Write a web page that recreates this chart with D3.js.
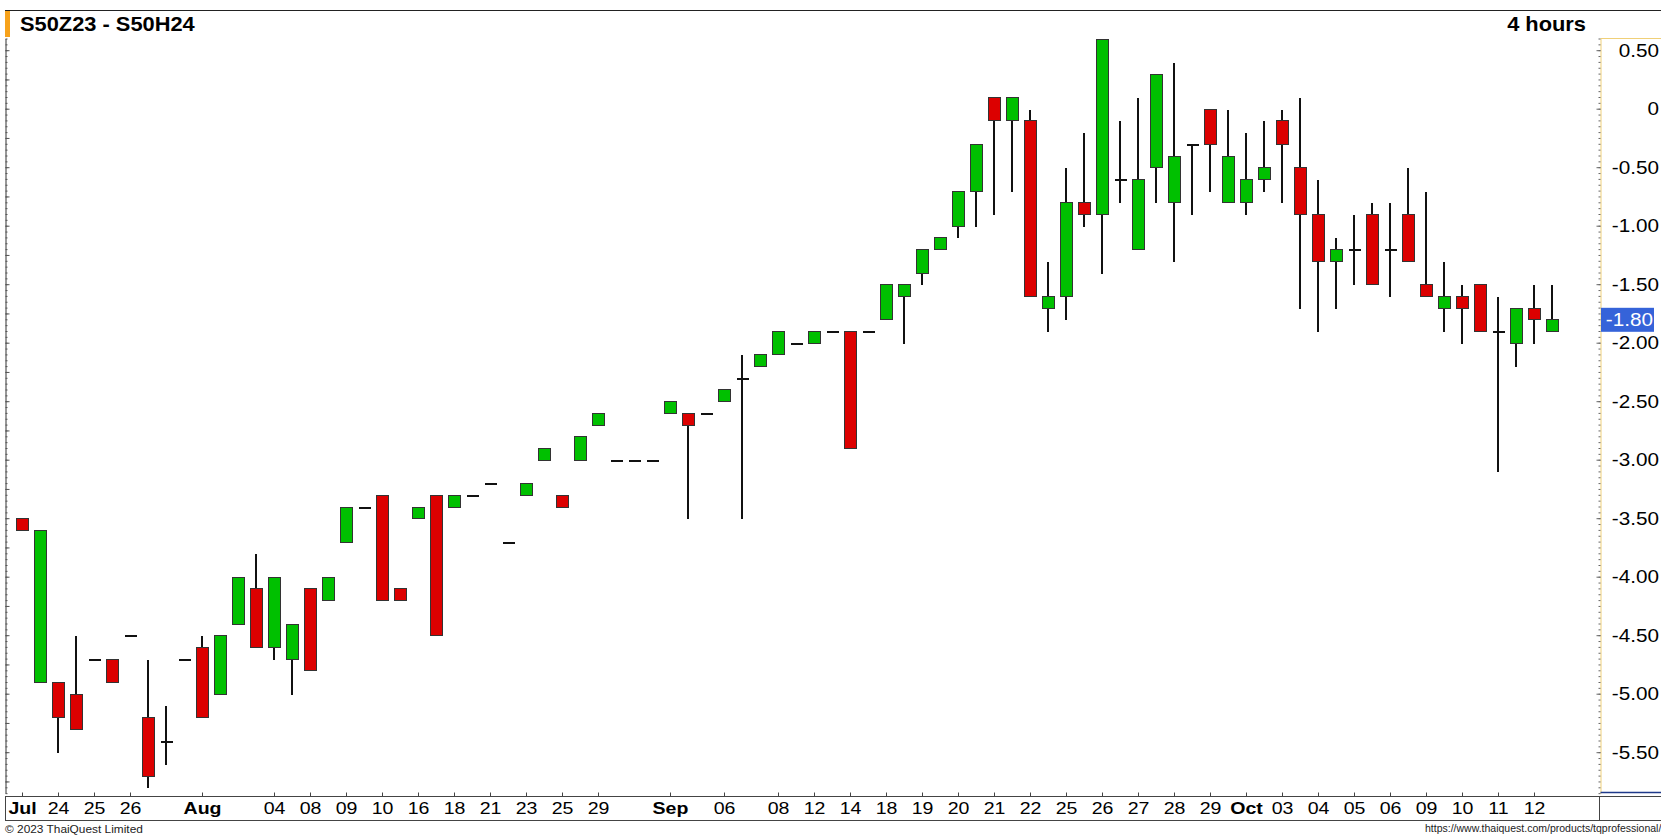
<!DOCTYPE html>
<html>
<head>
<meta charset="utf-8">
<script src="https://cdn.jsdelivr.net/npm/d3@7"></script>
<style>
body { margin: 0; background: #fff; overflow: hidden; }
svg { display: block; font-family: "Liberation Sans", Arial, sans-serif; }
</style>
</head>
<body>
<script>
// 4-hour bars, S50Z23 - S50H24 spread
const opens  = [-3.5,-4.9,-4.9,-5.0,-4.7,-4.7,-4.5,-5.2,-5.4,-4.7,
                -4.6,-5.0,-4.4,-4.1,-4.6,-4.7,-4.1,-4.2,-3.7,-3.4,
                -3.3,-4.1,-3.5,-3.3,-3.4,-3.3,-3.2,-3.7,-3.3,-3.0,
                -3.3,-3.0,-2.7,-3.0,-3.0,-3.0,-2.6,-2.6,-2.6,-2.5,
                -2.3,-2.2,-2.1,-2.0,-2.0,-1.9,-1.9,-1.9,-1.8,-1.6,
                -1.4,-1.2,-1.0,-0.7, 0.1,-0.1,-0.1,-1.7,-1.6,-0.8,
                -0.9,-0.6,-1.2,-0.5,-0.8,-0.3, 0.0,-0.8,-0.8,-0.6,
                -0.1,-0.5,-0.9,-1.3,-1.2,-0.9,-1.2,-0.9,-1.5,-1.7,
                -1.6,-1.5,-1.9,-2.0,-1.7,-1.9];
const highs  = [-3.5,-3.6,-4.9,-4.5,-4.7,-4.7,-4.5,-4.7,-5.1,-4.7,
                -4.5,-4.5,-4.0,-3.8,-4.0,-4.4,-4.1,-4.0,-3.4,-3.4,
                -3.3,-4.1,-3.4,-3.3,-3.3,-3.3,-3.2,-3.7,-3.2,-2.9,
                -3.3,-2.8,-2.6,-3.0,-3.0,-3.0,-2.5,-2.6,-2.6,-2.4,
                -2.1,-2.1,-1.9,-2.0,-1.9,-1.9,-1.9,-1.9,-1.5,-1.5,
                -1.2,-1.1,-0.7,-0.3, 0.1, 0.1, 0.0,-1.3,-0.5,-0.2,
                 0.6,-0.1, 0.1, 0.3, 0.4,-0.3, 0.0, 0.0,-0.2,-0.1,
                 0.0, 0.1,-0.6,-1.1,-0.9,-0.8,-0.8,-0.5,-0.7,-1.3,
                -1.5,-1.5,-1.6,-1.7,-1.5,-1.5];
const lows   = [-3.6,-4.9,-5.5,-5.3,-4.7,-4.9,-4.5,-5.8,-5.6,-4.7,
                -5.2,-5.0,-4.4,-4.6,-4.7,-5.0,-4.8,-4.2,-3.7,-3.4,
                -4.2,-4.2,-3.5,-4.5,-3.4,-3.3,-3.2,-3.7,-3.3,-3.0,
                -3.4,-3.0,-2.7,-3.0,-3.0,-3.0,-2.6,-3.5,-2.6,-2.5,
                -3.5,-2.2,-2.1,-2.0,-2.0,-1.9,-2.9,-1.9,-1.8,-2.0,
                -1.5,-1.2,-1.1,-1.0,-0.9,-0.7,-1.6,-1.9,-1.8,-1.0,
                -1.4,-0.8,-1.2,-0.8,-1.3,-0.9,-0.7,-0.8,-0.9,-0.7,
                -0.8,-1.7,-1.9,-1.7,-1.5,-1.5,-1.6,-1.3,-1.6,-1.9,
                -2.0,-1.9,-3.1,-2.2,-2.0,-1.9];
const closes = [-3.6,-3.6,-5.2,-5.3,-4.7,-4.9,-4.5,-5.7,-5.4,-4.7,
                -5.2,-4.5,-4.0,-4.6,-4.0,-4.4,-4.8,-4.0,-3.4,-3.4,
                -4.2,-4.2,-3.4,-4.5,-3.3,-3.3,-3.2,-3.7,-3.2,-2.9,
                -3.4,-2.8,-2.6,-3.0,-3.0,-3.0,-2.5,-2.7,-2.6,-2.4,
                -2.3,-2.1,-1.9,-2.0,-1.9,-1.9,-2.9,-1.9,-1.5,-1.5,
                -1.2,-1.1,-0.7,-0.3,-0.1, 0.1,-1.6,-1.6,-0.8,-0.9,
                 0.6,-0.6,-0.6, 0.3,-0.4,-0.3,-0.3,-0.4,-0.6,-0.5,
                -0.3,-0.9,-1.3,-1.2,-1.2,-1.5,-1.2,-1.3,-1.6,-1.6,
                -1.7,-1.9,-1.9,-1.7,-1.8,-1.8];

// date labels along the time axis (bar index -> text)
const tickIdx  = [0, 2, 4, 6, 10, 14, 16, 18, 20, 22, 24, 26, 28, 30, 32,
                  36, 39, 42, 44, 46, 48, 50, 52, 54, 56, 58, 60, 62,
                  64, 66, 68, 70, 72, 74, 76, 78, 80, 82, 84];
const tickText = ["Jul", "24", "25", "26", "Aug", "04", "08", "09", "10", "16", "18", "21", "23", "25", "29",
                  "Sep", "06", "08", "12", "14", "18", "19", "20", "21", "22", "25", "26", "27",
                  "28", "29", "Oct", "03", "04", "05", "06", "09", "10", "11", "12"];
const months = ["Jul", "Aug", "Sep", "Oct"];

const yLabelVals = [0.5, 0, -0.5, -1, -1.5, -2, -2.5, -3, -3.5, -4, -4.5, -5, -5.5];
const lastPrice = -1.80;

const W = 1661, H = 836;
const axisX = 1600.5;
const xAxisY = 796.5;
const sx = 1.15;

const svg = d3.select("body").append("svg")
  .attr("width", W)
  .attr("height", H);

const x = d3.scaleBand()
  .domain(d3.range(opens.length))
  .range([13.5, 1561.5]);

const y = d3.scaleLinear()
  .domain([-5.85, 0.6])
  .range([793.15, 38.5]);

const cx = i => x(i) + x.bandwidth() / 2;
const py = v => Math.round(y(v)) + 0.5;

// header
svg.append("line")
  .attr("x1", 5).attr("x2", W).attr("y1", 10.5).attr("y2", 10.5)
  .attr("stroke", "#222");
svg.append("rect")
  .attr("x", 5).attr("y", 11).attr("width", 5).attr("height", 26)
  .attr("fill", "#f7a21b");
svg.append("text")
  .attr("transform", `translate(20,30.5) scale(1.12,1)`)
  .attr("font-size", 19.5).attr("font-weight", "bold")
  .text("S50Z23 - S50H24");
svg.append("text")
  .attr("transform", `translate(1586,30.5) scale(1.12,1)`)
  .attr("text-anchor", "end")
  .attr("font-size", 19.5).attr("font-weight", "bold")
  .text("4 hours");

// candles
const bars = opens.map((o, i) => ({i: i, o: o, h: highs[i], l: lows[i], c: closes[i]}));
const cg = svg.append("g");

cg.selectAll("line.wick")
  .data(bars.filter(d => d.h !== d.l))
  .join("line")
  .attr("class", "wick")
  .attr("x1", d => cx(d.i) - 0.5).attr("x2", d => cx(d.i) - 0.5)
  .attr("y1", d => py(d.h)).attr("y2", d => py(d.l))
  .attr("stroke", "#111").attr("stroke-width", 2)
  .attr("shape-rendering", "crispEdges");

cg.selectAll("line.flat")
  .data(bars.filter(d => d.o === d.c))
  .join("line")
  .attr("class", "flat")
  .attr("x1", d => cx(d.i) - 6).attr("x2", d => cx(d.i) + 6)
  .attr("y1", d => py(d.o)).attr("y2", d => py(d.o))
  .attr("stroke", "#111").attr("stroke-width", 2)
  .attr("shape-rendering", "crispEdges");

cg.selectAll("rect.body")
  .data(bars.filter(d => d.o !== d.c))
  .join("rect")
  .attr("class", "body")
  .attr("x", d => cx(d.i) - 6)
  .attr("y", d => py(Math.max(d.o, d.c)))
  .attr("width", 12)
  .attr("height", d => py(Math.min(d.o, d.c)) - py(Math.max(d.o, d.c)))
  .attr("fill", d => d.c > d.o ? "#00c000" : "#dc0000")
  .attr("stroke", "#333").attr("stroke-width", 1);

// left edge scale
const leftMinor = d3.range(-117, 13).map(k => k * 0.05);
svg.append("g")
  .attr("transform", "translate(5.5,0)")
  .call(d3.axisRight(y).tickValues(leftMinor).tickSizeInner(2).tickSizeOuter(0).tickFormat(""))
  .call(g => g.selectAll("line").attr("stroke", "#555"))
  .call(g => g.select(".domain").attr("stroke", "#333"));
svg.append("g")
  .attr("transform", "translate(5.5,0)")
  .call(d3.axisRight(y).tickValues(d3.range(-23, 3).map(k => k * 0.25)).tickSizeInner(4).tickSizeOuter(0).tickFormat(""))
  .call(g => g.selectAll("line").attr("stroke", "#555"))
  .call(g => g.select(".domain").remove());

// right price scale
svg.append("line")
  .attr("x1", axisX).attr("x2", W).attr("y1", 38.5).attr("y2", 38.5)
  .attr("stroke", "#f0d078");
svg.append("g")
  .attr("transform", `translate(${axisX},0)`)
  .call(d3.axisLeft(y).tickValues(leftMinor).tickSizeInner(2).tickSizeOuter(0).tickFormat(""))
  .call(g => g.selectAll("line").attr("stroke", "#666"))
  .call(g => g.select(".domain").attr("stroke", "#f0d078"));
svg.append("g")
  .attr("transform", `translate(${axisX},0)`)
  .call(d3.axisLeft(y).tickValues(yLabelVals).tickSizeInner(4).tickSizeOuter(0).tickFormat(""))
  .call(g => g.selectAll("line").attr("stroke", "#666"))
  .call(g => g.select(".domain").remove());

svg.append("g")
  .selectAll("text")
  .data(yLabelVals)
  .join("text")
  .attr("transform", d => `translate(1659,${y(d) + 6.5}) scale(${sx},1)`)
  .attr("text-anchor", "end")
  .attr("font-size", 18)
  .attr("fill", "#000")
  .text(d => d === 0 ? "0" : d.toFixed(2));

svg.append("rect")
  .attr("x", 1601).attr("y", y(lastPrice) - 11.5)
  .attr("width", 53).attr("height", 24)
  .attr("fill", "#3563d9");
svg.append("text")
  .attr("transform", `translate(1653,${y(lastPrice) + 7}) scale(${sx},1)`)
  .attr("text-anchor", "end")
  .attr("font-size", 18)
  .attr("fill", "#fff")
  .text(lastPrice.toFixed(2));

// bottom frame
svg.append("line")
  .attr("x1", axisX).attr("x2", W).attr("y1", 792.5).attr("y2", 792.5)
  .attr("stroke", "#1f3a8a").attr("stroke-width", 1.5);
svg.append("line")
  .attr("x1", 5).attr("x2", W).attr("y1", xAxisY).attr("y2", xAxisY)
  .attr("stroke", "#444");
svg.append("line")
  .attr("x1", 5).attr("x2", W).attr("y1", 820.5).attr("y2", 820.5)
  .attr("stroke", "#444");
svg.append("line")
  .attr("x1", 1599.5).attr("x2", 1599.5).attr("y1", xAxisY).attr("y2", 820.5)
  .attr("stroke", "#444");
svg.append("line")
  .attr("x1", 5.5).attr("x2", 5.5).attr("y1", xAxisY).attr("y2", 820.5)
  .attr("stroke", "#444");

// time axis
const xAxis = d3.axisBottom(x)
  .tickValues(tickIdx)
  .tickFormat(d => tickText[tickIdx.indexOf(d)])
  .tickSizeInner(-4)
  .tickSizeOuter(0)
  .tickPadding(5);

svg.append("g")
  .attr("transform", `translate(0,${xAxisY})`)
  .call(xAxis)
  .attr("font-size", 17)
  .attr("font-family", null)
  .call(g => g.select(".domain").remove())
  .call(g => g.selectAll("line").attr("stroke", "#444"))
  .call(g => g.selectAll("text")
    .attr("fill", "#000")
    .attr("transform", `scale(${sx},1)`)
    .attr("font-weight", (d) => months.includes(tickText[tickIdx.indexOf(d)]) ? "bold" : null));

// footer
svg.append("text")
  .attr("transform", "translate(5,833) scale(1.08,1)")
  .attr("font-size", 11)
  .attr("fill", "#222")
  .text("© 2023 ThaiQuest Limited");
svg.append("text")
  .attr("x", 1425).attr("y", 832)
  .attr("font-size", 10.5)
  .attr("fill", "#222")
  .text("https://www.thaiquest.com/products/tqprofessional/");
</script>
</body>
</html>
